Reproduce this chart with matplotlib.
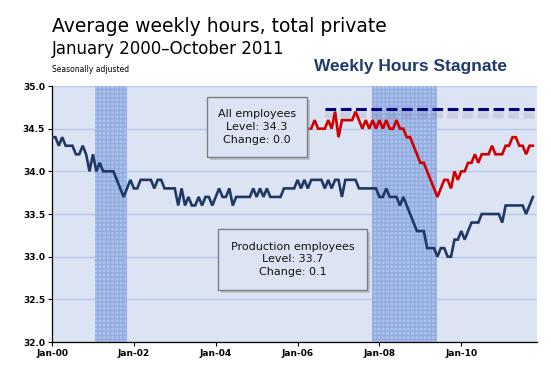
import numpy as np
import matplotlib
matplotlib.use("Agg")
import matplotlib.pyplot as plt
from matplotlib.patches import Rectangle

# months since Jan 2000
prod_start = 0
prod_hours = [
    34.4, 34.4, 34.3, 34.4, 34.3, 34.3, 34.3, 34.2, 34.2, 34.3, 34.2, 34.0,
    34.2, 34.0, 34.1, 34.0, 34.0, 34.0, 34.0, 33.9, 33.8, 33.7, 33.8, 33.9,
    33.8, 33.8, 33.9, 33.9, 33.9, 33.9, 33.8, 33.9, 33.9, 33.8, 33.8, 33.8,
    33.8, 33.6, 33.8, 33.6, 33.7, 33.6, 33.6, 33.7, 33.6, 33.7, 33.7, 33.6,
    33.7, 33.8, 33.7, 33.7, 33.8, 33.6, 33.7, 33.7, 33.7, 33.7, 33.7, 33.8,
    33.7, 33.8, 33.7, 33.8, 33.7, 33.7, 33.7, 33.7, 33.8, 33.8, 33.8, 33.8,
    33.9, 33.8, 33.9, 33.8, 33.9, 33.9, 33.9, 33.9, 33.8, 33.9, 33.8, 33.9,
    33.9, 33.7, 33.9, 33.9, 33.9, 33.9, 33.8, 33.8, 33.8, 33.8, 33.8, 33.8,
    33.7, 33.7, 33.8, 33.7, 33.7, 33.7, 33.6, 33.7, 33.6, 33.5, 33.4, 33.3,
    33.3, 33.3, 33.1, 33.1, 33.1, 33.0, 33.1, 33.1, 33.0, 33.0, 33.2, 33.2,
    33.3, 33.2, 33.3, 33.4, 33.4, 33.4, 33.5, 33.5, 33.5, 33.5, 33.5, 33.5,
    33.4, 33.6, 33.6, 33.6, 33.6, 33.6, 33.6, 33.5, 33.6, 33.7,
]
all_start = 75
all_hours = [
    34.5, 34.5, 34.6, 34.5, 34.5, 34.5, 34.6, 34.5, 34.7, 34.4, 34.6, 34.6,
    34.6, 34.6, 34.7, 34.6, 34.5, 34.6, 34.5, 34.6, 34.5, 34.6, 34.5, 34.6,
    34.5, 34.5, 34.6, 34.5, 34.5, 34.4, 34.4, 34.3, 34.2, 34.1, 34.1, 34.0,
    33.9, 33.8, 33.7, 33.8, 33.9, 33.9, 33.8, 34.0, 33.9, 34.0, 34.0, 34.1,
    34.1, 34.2, 34.1, 34.2, 34.2, 34.2, 34.3, 34.2, 34.2, 34.2, 34.3, 34.3,
    34.4, 34.4, 34.3, 34.3, 34.2, 34.3, 34.3,
]
peak_level = 34.73
peak_span = [80, 142.2]
recessions = [(12.6, 22.0), (93.8, 112.9)]
tick_pos = [0, 24, 48, 72, 96, 120]
tick_labels = ["Jan-00", "Jan-02", "Jan-04", "Jan-06", "Jan-08", "Jan-10"]
y_ticks = [32.0, 32.5, 33.0, 33.5, 34.0, 34.5, 35.0]

BG = "#DCE3F3"
NAVY = "#1F3864"
RED = "#D00000"

fig = plt.figure(figsize=(5.51, 3.65), dpi=100)
ax = fig.add_axes([52 / 551, 23 / 365, 485 / 551, 256 / 365])
ax.set_facecolor(BG)

for a, b in recessions:
    ax.axvspan(a, b, facecolor="#ABC0EA", edgecolor="#93ACE0", hatch="++++",
               linewidth=0, zorder=1)

for yv in y_ticks:
    ax.axhline(yv, color="#B7C8EA", linewidth=1.0, zorder=0.5)

x_prod = np.arange(prod_start, prod_start + len(prod_hours))
x_all = np.arange(all_start, all_start + len(all_hours))
ax.plot(x_prod, prod_hours, color=NAVY, linewidth=1.9, zorder=3,
        solid_joinstyle="miter")
ax.plot(x_all, all_hours, color=RED, linewidth=1.9, zorder=3,
        solid_joinstyle="miter")

# blurred shadow of the dashed peak line
for off, lw in [(0.07, 6), (0.075, 4.5), (0.08, 3)]:
    ax.plot(peak_span, [peak_level - off] * 2, color="#707070", linewidth=lw,
            alpha=0.06, dashes=(3.5 * 2.2 / lw, 1.5 * 2.2 / lw), zorder=2)
ax.plot(peak_span, [peak_level] * 2, color="#000080", linewidth=2.2,
        dashes=(3.5, 1.5), zorder=4)

ax.set_xlim(0, 142.2)
ax.set_ylim(32.0, 35.0)
ax.set_xticks(tick_pos)
ax.set_xticklabels(tick_labels, fontsize=6.5, fontweight="bold")
ax.set_yticks(y_ticks)
ax.set_yticklabels(["%.1f" % v for v in y_ticks], fontsize=6.5, fontweight="bold")
ax.tick_params(axis="both", direction="out", length=3, width=0.8, pad=2)
for s in ["top", "right"]:
    ax.spines[s].set_visible(False)
for s in ["left", "bottom"]:
    ax.spines[s].set_linewidth(0.9)

# annotation boxes
def box(x0, y0, x1, y1, lines):
    fig.patches.append(Rectangle((x0 / 551 + 3 / 551, 1 - y1 / 365 - 3 / 365),
                                 (x1 - x0) / 551, (y1 - y0) / 365,
                                 transform=fig.transFigure, facecolor="#A0A0A0",
                                 edgecolor="none", alpha=0.5, zorder=5))
    fig.patches.append(Rectangle((x0 / 551, 1 - y1 / 365), (x1 - x0) / 551,
                                 (y1 - y0) / 365, transform=fig.transFigure,
                                 facecolor=BG, edgecolor="#7F7F7F",
                                 linewidth=1.0, zorder=6))
    fig.text((x0 + x1) / 2 / 551, 1 - (y0 + y1) / 2 / 365, "\n".join(lines),
             ha="center", va="center", fontsize=8, linespacing=1.35,
             color="#111111", zorder=7)

box(207, 97, 307, 157, ["All employees", "Level: 34.3", "Change: 0.0"])
box(218, 229, 367, 290, ["Production employees", "Level: 33.7", "Change: 0.1"])

fig.text(52 / 551, 1 - 27 / 365, "Average weekly hours, total private",
         fontsize=13.5, va="center", ha="left")
fig.text(52 / 551, 1 - 49 / 365, "January 2000\u2013October 2011",
         fontsize=12, va="center", ha="left")
fig.text(52 / 551, 1 - 70 / 365, "Seasonally adjusted",
         fontsize=5.5, va="center", ha="left")
fig.text(411 / 551, 1 - 67 / 365, "Weekly Hours Stagnate", fontsize=12.5,
         fontweight="bold", color="#1F3A70", va="center", ha="center",
         family="Liberation Sans")

fig.savefig("out.png", dpi=100)
